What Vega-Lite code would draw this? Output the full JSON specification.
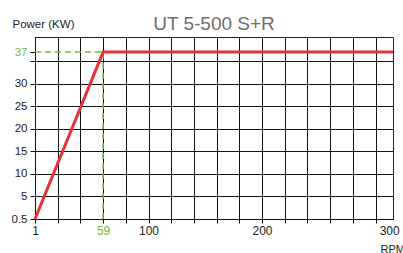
{
  "$schema": "https://vega.github.io/schema/vega-lite/v6.json",
  "width": 358,
  "height": 182,
  "autosize": "none",
  "padding": {"left": 35, "top": 37, "right": 10, "bottom": 34},
  "config": {
    "font": "Liberation Sans",
    "view": {"stroke": "#222", "strokeWidth": 1}
  },
  "title": {
    "text": "UT 5-500 S+R",
    "anchor": "middle",
    "fontSize": 19,
    "fontWeight": "normal",
    "color": "#6e6e6e",
    "baseline": "alphabetic",
    "offset": -31
  },
  "datasets": {
    "curve": [
      {"rpm": 0, "kw": 0},
      {"rpm": 60, "kw": 37},
      {"rpm": 315.4, "kw": 37}
    ],
    "marker": [
      {"rpm0": 0, "rpm": 60, "kw0": 0, "kw": 37}
    ]
  },
  "encoding": {
    "x": {
      "type": "quantitative",
      "scale": {"domain": [0, 315.4], "nice": false, "zero": false},
      "axis": {
        "title": "RPM",
        "titleX": 345,
        "titleY": 33,
        "titleAlign": "left",
        "titleBaseline": "alphabetic",
        "titleAnchor": null,
        "titleFontSize": 11,
        "titleFontWeight": "normal",
        "titleColor": "#222",
        "values": [0, 20, 40, 60, 80, 100, 120, 140, 160, 180, 200, 220, 240, 260, 280, 300, 312],
        "labelExpr": "datum.value == 0 ? '1' : datum.value == 60 ? '59' : datum.value == 100 ? '100' : datum.value == 200 ? '200' : datum.value == 312 ? '300' : ''",
        "labelColor": {"condition": {"test": "datum.value == 60", "value": "#77b843"}, "value": "#222"},
        "labelFontSize": 12,
        "labelPadding": 2,
        "labelOverlap": false,
        "labelFlush": false,
        "domainColor": "#111",
        "tickColor": "#111",
        "tickSize": 4,
        "tickOpacity": {"condition": {"test": "datum.value == 312", "value": 0}, "value": 1},
        "grid": true,
        "gridColor": "#111",
        "gridOpacity": {"condition": {"test": "datum.value == 312", "value": 0}, "value": 1}
      }
    },
    "y": {
      "type": "quantitative",
      "scale": {"domain": [0, 40.35], "nice": false, "zero": false},
      "axis": {
        "title": "Power (KW)",
        "titleAngle": 0,
        "titleX": -23,
        "titleY": -10,
        "titleAlign": "left",
        "titleBaseline": "alphabetic",
        "titleAnchor": null,
        "titleFontSize": 11.5,
        "titleFontWeight": "normal",
        "titleColor": "#222",
        "values": [0, 5, 10, 15, 20, 25, 30, 35, 37],
        "labelExpr": "datum.value == 0 ? '0.5' : datum.value == 35 ? '' : datum.label",
        "labelColor": {"condition": {"test": "datum.value == 37", "value": "#77b843"}, "value": "#222"},
        "labelFontSize": 11.5,
        "labelPadding": 3,
        "labelOverlap": false,
        "labelFlush": false,
        "domainColor": "#111",
        "tickColor": "#111",
        "tickSize": 5,
        "grid": true,
        "gridColor": "#111",
        "gridOpacity": {"condition": {"test": "datum.value == 37", "value": 0}, "value": 1}
      }
    }
  },
  "layer": [
    {
      "data": {"name": "marker"},
      "mark": {"type": "rule", "color": "#77b843", "strokeWidth": 1.5, "strokeDash": [6, 4]},
      "encoding": {
        "x": {"field": "rpm0"},
        "x2": {"field": "rpm"},
        "y": {"field": "kw"}
      }
    },
    {
      "data": {"name": "marker"},
      "mark": {"type": "rule", "color": "#77b843", "strokeWidth": 1.5, "strokeDash": [6, 4]},
      "encoding": {
        "x": {"field": "rpm"},
        "y": {"field": "kw0"},
        "y2": {"field": "kw"}
      }
    },
    {
      "data": {"name": "curve"},
      "mark": {"type": "line", "color": "#e53238", "strokeWidth": 3, "clip": false},
      "encoding": {
        "x": {"field": "rpm"},
        "y": {"field": "kw"}
      }
    }
  ]
}
